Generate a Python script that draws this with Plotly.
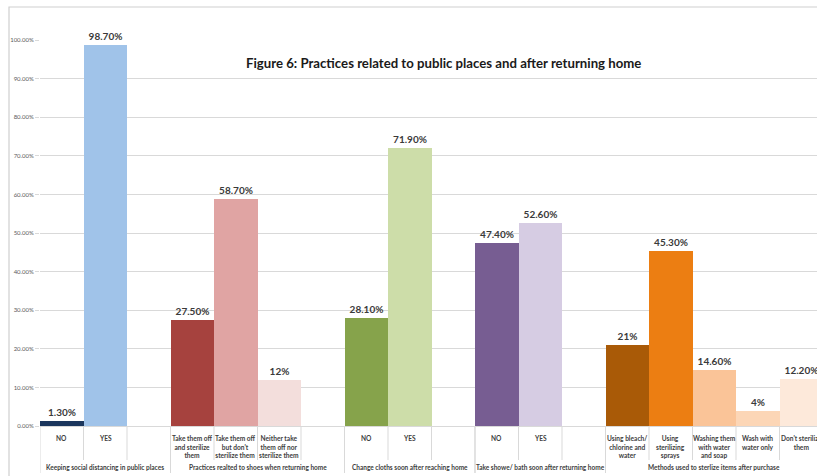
import plotly.graph_objects as go

# ---- data -------------------------------------------------------------
group_names = [
    "Keeping social distancing in public places",
    "Practices realted to shoes when returning home",
    "Change cloths soon after reaching home",
    "Take showe/ bath soon after returning home",
    "Methods used to sterlize items after purchase",
]
sub_labels = [
    ["NO", "YES"],
    ["Take them off<br>and sterilize<br>them", "Take them off<br>but don't<br>sterilize them",
     "Neither take<br>them off nor<br>sterilize them"],
    ["NO", "YES"],
    ["NO", "YES"],
    ["Using bleach/<br>chlorine and<br>water", "Using<br>sterilizing<br>sprays",
     "Washing them<br>with water<br>and soap", "Wash with<br>water only", "Don't sterilize<br>them"],
]
values = [
    [1.30, 98.70],
    [27.50, 58.70, 12],
    [28.10, 71.90],
    [47.40, 52.60],
    [21, 45.30, 14.60, 4, 12.20],
]
value_labels = [
    ["1.30%", "98.70%"],
    ["27.50%", "58.70%", "12%"],
    ["28.10%", "71.90%"],
    ["47.40%", "52.60%"],
    ["21%", "45.30%", "14.60%", "4%", "12.20%"],
]
colors = [
    ["#1B365D", "#A0C3E9"],
    ["#A6423E", "#E0A4A3", "#F3DEDC"],
    ["#86A34B", "#CDDDA9"],
    ["#775D92", "#D6CCE3"],
    ["#A95A07", "#EC7E12", "#FAC498", "#FCD6B6", "#FDE9DA"],
]
blank_after = [1, 1, 1, 1, 0]  # empty category slots closing each group

# ---- layout geometry (pixels) -----------------------------------------
W, H = 817, 476
ML, MT, MB = 40, 40, 50
slot_px = 43.5
plot_w = W - ML
plot_h = H - MT - MB

FONT = "Lato, 'Open Sans', sans-serif"
GRID = "#D9D9D9"

def py(pix):
    """pixel row -> paper y"""
    return 1 - (pix - MT) / plot_h

fig = go.Figure()
shapes = []
annotations = []

pos = 0
for g, name in enumerate(group_names):
    start = pos
    xs = []
    for k in range(len(values[g])):
        xs.append(pos)
        pos += 1
    pos += blank_after[g]
    end = pos  # exclusive

    fig.add_trace(go.Bar(
        x=xs, y=[v / 100 for v in values[g]],
        width=1.0,
        marker=dict(color=colors[g], line=dict(width=0)),
        text=value_labels[g], textposition="outside", cliponaxis=False,
        textfont=dict(family=FONT, size=10, color="#3A3A3A", weight="bold"),
        showlegend=False, hoverinfo="skip",
    ))

    # sub-category labels
    for x, lab in zip(xs, sub_labels[g]):
        annotations.append(dict(
            x=x, y=py(432), xref="x", yref="paper", text=lab, showarrow=False,
            yanchor="top", xanchor="center", align="center",
            font=dict(family=FONT, size=6.6, color="#404040", weight="bold")))

    # group label
    annotations.append(dict(
        x=(start + end - 1) / 2, y=py(467), xref="x", yref="paper", text=name,
        showarrow=False, yanchor="middle", xanchor="center",
        font=dict(family=FONT, size=6.5, color="#404040", weight="bold")))

    # dividers between categories inside the group
    for b in range(start + 1, end):
        shapes.append(dict(type="line", xref="x", yref="paper",
                           x0=b - 0.5, x1=b - 0.5, y0=0, y1=py(460),
                           line=dict(color=GRID, width=1)))
    # group boundaries
    for b in (start, end):
        shapes.append(dict(type="line", xref="x", yref="paper",
                           x0=b - 0.5, x1=b - 0.5, y0=0, y1=py(473),
                           line=dict(color=GRID, width=1)))

# chart title
annotations.append(dict(
    x=(443 - ML) / plot_w, y=py(63), xref="paper", yref="paper",
    text="Figure 6: Practices related to public places and after returning home",
    showarrow=False, xanchor="center", yanchor="middle",
    font=dict(family=FONT, size=13.2, color="#1A1A1A", weight="bold")))

# outer chart frame
shapes.append(dict(type="rect", xref="paper", yref="paper",
                   x0=(9 - ML) / plot_w, x1=1.2, y0=py(H + 20), y1=py(7),
                   line=dict(color="#CFCFCF", width=1.2), fillcolor="rgba(0,0,0,0)",
                   layer="below"))

fig.update_layout(
    width=W, height=H,
    margin=dict(l=ML, r=0, t=MT, b=MB),
    paper_bgcolor="white", plot_bgcolor="white",
    bargap=0,
    shapes=shapes, annotations=annotations,
    xaxis=dict(range=[-0.5, -0.5 + plot_w / slot_px], showticklabels=False,
               showgrid=False, zeroline=False, showline=False, fixedrange=True),
    yaxis=dict(range=[0, 1], dtick=0.1, tickformat=".2%",
               showgrid=True, gridcolor=GRID, gridwidth=1,
               zeroline=True, zerolinecolor=GRID, zerolinewidth=1,
               ticks="outside", ticklen=4, tickcolor=GRID,
               tickfont=dict(family=FONT, size=6, color="#595959"),
               showline=False, fixedrange=True),
)

fig.write_html("out.html")
